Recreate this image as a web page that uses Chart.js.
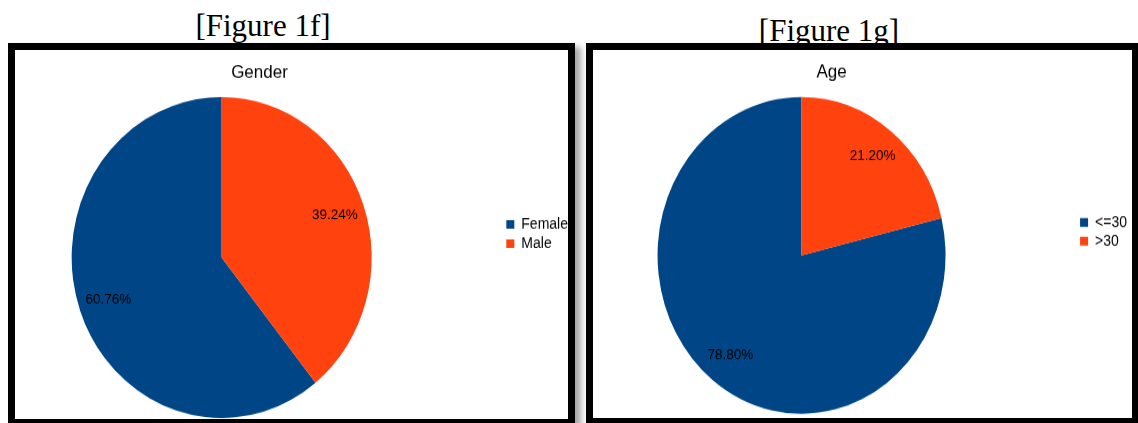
<!DOCTYPE html>
<html>
<head>
<meta charset="utf-8">
<script src="https://cdn.jsdelivr.net/npm/chart.js@4.4.0/dist/chart.umd.min.js"></script>
<style>
  body { margin: 0; width: 1138px; height: 423px; background: #fff; position: relative; overflow: hidden; }
  .caption { position: absolute; font-family: "Liberation Serif", "Times New Roman", serif; font-size: 31px; line-height: 31px; color: #000; white-space: nowrap; transform: translateX(-50%); }
  .panel { position: absolute; top: 43px; border: 7px solid #000; background: #fff; box-shadow: 6px 4px 6px rgba(0, 0, 0, 0.35); overflow: hidden; }
  .stretch { position: absolute; top: 0; transform-origin: 0 0; }
</style>
</head>
<body>
<div class="caption" style="left:263px; top:10px;">[Figure 1f]</div>
<div class="caption" style="left:829px; top:15px;">[Figure 1g]</div>

<div class="panel" style="left:8px; width:553px; height:369px;">
  <div class="stretch" style="left:-74px; transform:scaleY(1.07);">
    <canvas id="genderChart" width="637" height="345"></canvas>
  </div>
</div>
<div class="panel" style="left:586px; width:539px; height:368px;">
  <div class="stretch" style="left:-67px; transform:scaleY(1.1);">
    <canvas id="ageChart" width="611" height="334"></canvas>
  </div>
</div>

<script>
// shares in percent
const genderLabels = ["Female", "Male"];
const genderShare = [60.76, 39.24];
const ageLabels = ["<=30", ">30"];
const ageShare = [78.8, 21.2];
const sliceColors = ["#004586", "#ff420e"];

const sans = '"Liberation Sans", Arial, sans-serif';
Chart.defaults.font.family = sans;
Chart.defaults.color = "#000";

// writes the percentage inside each slice
const sliceLabels = {
  id: "sliceLabels",
  afterDatasetsDraw(chart) {
    const ctx = chart.ctx;
    const meta = chart.getDatasetMeta(0);
    const values = chart.data.datasets[0].data;
    ctx.save();
    ctx.font = "13.5px " + sans;
    ctx.fillStyle = "#000";
    ctx.textAlign = "center";
    ctx.textBaseline = "middle";
    meta.data.forEach((arc, i) => {
      const p = arc.getProps(["x", "y", "startAngle", "endAngle", "outerRadius"], true);
      const mid = (p.startAngle + p.endAngle) / 2;
      const r = p.outerRadius * 0.8;
      ctx.fillText(values[i].toFixed(2) + "%", p.x + Math.cos(mid) * r, p.y + Math.sin(mid) * r);
    });
    ctx.restore();
  },
};

function makePie(id, title, labels, values, pad) {
  return new Chart(document.getElementById(id), {
    type: "pie",
    data: {
      labels: labels,
      datasets: [
        {
          data: values,
          backgroundColor: sliceColors,
          borderWidth: 0,
          hoverOffset: 0,
        },
      ],
    },
    options: {
      responsive: false,
      animation: false,
      // second slice starts at 12 o'clock, first one fills the rest
      rotation: values[1] * 3.6,
      layout: { padding: { bottom: pad.bottom, right: pad.right } },
      plugins: {
        title: {
          display: true,
          text: title,
          color: "#000",
          font: { size: 17, weight: "normal" },
          padding: { top: pad.titleTop, bottom: pad.titleBottom },
        },
        legend: {
          position: "right",
          labels: {
            boxWidth: 8,
            boxHeight: 8,
            padding: pad.gap,
            color: "#000",
            font: { size: 14 },
          },
        },
        tooltip: { enabled: false },
      },
    },
    plugins: [sliceLabels],
  });
}

makePie("genderChart", "Gender", genderLabels, genderShare,
  { bottom: 1.1, right: 0, titleTop: 10.8, titleBottom: 12.7, gap: 4 });
makePie("ageChart", "Age", ageLabels, ageShare,
  { bottom: 3.3, right: 0, titleTop: 9.8, titleBottom: 12.5, gap: 3 });
</script>
</body>
</html>
